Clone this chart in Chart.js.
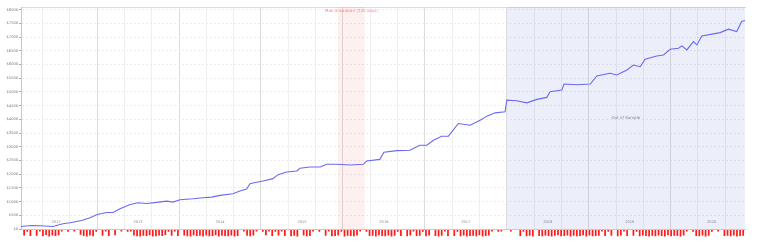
<!DOCTYPE html>
<html>
<head>
<meta charset="utf-8">
<script src="https://cdn.jsdelivr.net/npm/chart.js@4"></script>
<style>
  html, body { margin: 0; padding: 0; background: #fff; }
  #wrap { position: relative; width: 760px; height: 249px; }
  #equityChart { position: absolute; left: 0; top: 0; }
  #lossChart { position: absolute; left: 0; top: 229px; }
</style>
</head>
<body>
<div id="wrap">
  <canvas id="equityChart" width="760" height="234"></canvas>
  <canvas id="lossChart" width="760" height="20"></canvas>
</div>
<script>
// Equity curve
const equityDates = [
    '2012-01-27', '2012-03-15', '2012-04-21', '2012-06-18', '2012-08-01', '2012-09-02', '2012-10-24', '2012-11-30',
    '2013-01-01', '2013-02-13', '2013-03-13', '2013-04-13', '2013-05-28', '2013-07-02', '2013-08-10', '2013-09-23', '2013-11-07', '2013-12-05',
    '2014-01-05', '2014-03-04', '2014-04-17', '2014-05-26', '2014-07-02', '2014-08-29', '2014-09-29', '2014-10-29', '2014-11-13', '2014-11-26',
    '2015-01-10', '2015-02-23', '2015-03-18', '2015-04-25', '2015-06-09', '2015-06-24', '2015-08-07', '2015-09-21', '2015-10-21', '2015-12-04',
    '2016-02-02', '2016-04-01', '2016-04-16', '2016-06-14', '2016-07-02', '2016-08-29', '2016-10-26', '2016-12-10',
    '2017-01-10', '2017-02-08', '2017-03-17', '2017-04-16', '2017-05-30', '2017-07-21', '2017-09-04', '2017-10-04', '2017-11-10', '2017-12-24',
    '2018-01-01', '2018-02-14', '2018-03-31', '2018-05-15', '2018-06-28', '2018-07-13', '2018-09-03', '2018-09-13', '2018-11-09',
    '2019-01-08', '2019-02-06', '2019-04-06', '2019-05-06', '2019-06-20', '2019-07-19', '2019-08-18', '2019-09-09', '2019-10-31', '2019-11-30', '2019-12-30',
    '2020-02-05', '2020-02-20', '2020-03-13', '2020-04-12', '2020-04-27', '2020-05-19', '2020-07-10', '2020-08-09', '2020-09-15', '2020-10-22', '2020-11-13', '2020-11-28'
];
const equityValues = [
    92, 128, 117, 92, 190, 227, 311, 410,
    531, 604, 604, 739, 897, 959, 933, 970, 1017, 981,
    1069, 1105, 1142, 1164, 1226, 1288, 1383, 1457, 1654, 1676,
    1749, 1837, 1984, 2079, 2115, 2214, 2262, 2262, 2361, 2361,
    2335, 2361, 2481, 2540, 2800, 2860, 2873, 3056,
    3056, 3239, 3386, 3386, 3850, 3788, 3971, 4118, 4238, 4275,
    4703, 4677, 4604, 4729, 4802, 5007, 5069, 5289, 5263,
    5289, 5582, 5680, 5618, 5801, 5984, 5922, 6193, 6314, 6350, 6559,
    6595, 6680, 6533, 6837, 6716, 7046, 7119, 7166, 7290, 7203, 7569, 7606
];

// Losing trades, one bar per fortnight from the first date
const lossStart = '2012-01-27';
const lossDays = 14;
const lossValues = [
    0, 110, 35, 120, 0, 115, 30, 125, 100, 130, 110, 120, 105, 30, 0, 35, 0, 30, 0, 95,
    120, 130, 110, 125, 35, 0, 115, 30, 120, 0, 105, 0, 30, 0, 35, 30, 110, 125,
    130, 115, 120, 105, 130, 125, 110, 120, 100, 35, 115, 30, 120, 0, 110,
    125, 130, 105, 120, 115, 130, 110, 125, 120, 105, 130, 115, 120, 125, 110, 130, 120,
    0, 30, 115, 125, 110, 30, 0, 35, 105, 30, 120, 35, 110, 30,
    120, 0, 125, 115, 130, 0, 110, 125, 120, 30, 0, 35, 0,
    115, 30, 125, 120, 110, 35, 130, 115, 120,
    125, 110, 30, 0, 35, 120, 115, 130, 105, 120, 125, 110, 130, 115, 35, 120, 0, 125, 110, 30, 120, 115, 35, 125, 110, 0, 120, 130,
    115, 30, 125, 0, 120, 35, 125, 110, 130, 120, 115, 125, 105, 130, 120, 110,
    30, 0, 35, 30, 0, 0, 30, 0, 0,
    120, 35, 125, 115, 130, 0, 120,
    125, 110, 120, 130, 115, 105, 125, 120, 110, 130, 115, 125, 120, 105, 130, 110, 125, 120, 115,
    30, 120, 35, 115, 0, 125, 110, 30, 120, 0, 115, 35, 125, 110,
    120, 130, 115, 125, 110, 120, 130, 105, 125, 115, 120, 130, 110,
    30, 0, 35, 120, 125, 110, 130, 115, 35, 0, 30, 0,
    120, 115, 125, 110, 130, 120, 115, 125, 105, 120, 130, 115
];

// Axis and highlighted periods
const yTicks = [0, 500, 1000, 1500, 2000, 2500, 3000, 3500, 4000, 4500, 5000, 5500, 6000, 6500, 7000, 7500, 8000];
const yMax = 8100;
const drawdownRange = ['2015-12-10', '2016-04-08'];
const drawdownLabel = 'Max drawdown (120 days)';
const outOfSampleRange = ['2018-01-01', '2020-11-28'];
const outOfSampleLabel = 'Out of Sample';

function toYear(s) {
    const d = new Date(s + 'T00:00:00Z');
    const y = d.getUTCFullYear();
    const a = Date.UTC(y, 0, 1), b = Date.UTC(y + 1, 0, 1);
    return y + (d.getTime() - a) / (b - a);
}

const xMin = toYear(equityDates[0]);
const xMax = toYear(equityDates[equityDates.length - 1]);
const tinyFont = { family: 'DejaVu Sans', size: 3.6 };

const equityPoints = equityDates.map((d, i) => ({ x: toYear(d), y: equityValues[i] }));
const startMs = Date.parse(lossStart + 'T00:00:00Z');
const lossPoints = lossValues.map((v, i) => {
    const d = new Date(startMs + i * lossDays * 86400000).toISOString().slice(0, 10);
    return { x: toYear(d), y: v };
});

function band(range) {
    return [{ x: toYear(range[0]), y: yMax }, { x: toYear(range[1]), y: yMax }];
}

// Labels for the shaded periods
const bandLabels = {
    id: 'bandLabels',
    afterDatasetsDraw(chart) {
        const { ctx, scales } = chart;
        ctx.save();
        ctx.font = '4px "DejaVu Sans"';
        ctx.textAlign = 'center';
        ctx.textBaseline = 'middle';
        ctx.fillStyle = 'rgba(235, 110, 110, 0.8)';
        const dx = (scales.x.getPixelForValue(toYear(drawdownRange[0])) + scales.x.getPixelForValue(toYear(drawdownRange[1]))) / 2;
        ctx.fillText(drawdownLabel, dx, chart.chartArea.top + 4);
        ctx.fillStyle = '#888';
        const ox = (scales.x.getPixelForValue(toYear(outOfSampleRange[0])) + scales.x.getPixelForValue(toYear(outOfSampleRange[1]))) / 2;
        ctx.fillText(outOfSampleLabel, ox, (chart.chartArea.top + chart.chartArea.bottom) / 2);
        ctx.restore();
    }
};

new Chart(document.getElementById('equityChart'), {
    type: 'line',
    data: {
        datasets: [{
            data: equityPoints,
            borderColor: '#6a6af0',
            borderWidth: 1.1,
            pointRadius: 0,
            fill: false,
            tension: 0
        }, {
            data: band(drawdownRange),
            borderWidth: 0,
            pointRadius: 0,
            backgroundColor: 'rgba(255, 60, 60, 0.08)',
            fill: 'origin'
        }, {
            data: band(outOfSampleRange),
            borderWidth: 0,
            pointRadius: 0,
            backgroundColor: 'rgba(70, 100, 200, 0.1)',
            fill: 'origin'
        }]
    },
    options: {
        responsive: false,
        animation: false,
        devicePixelRatio: 1,
        layout: { padding: { top: 7, right: 15, bottom: 5, left: 0 } },
        plugins: { legend: { display: false }, tooltip: { enabled: false } },
        scales: {
            x: {
                type: 'linear',
                min: xMin,
                max: xMax,
                afterBuildTicks: (s) => {
                    const t = [];
                    for (let k = Math.ceil(xMin * 6); k <= xMax * 6; k++) t.push({ value: k / 6 });
                    s.ticks = t;
                },
                afterFit: (s) => { s.height = 0; },
                ticks: {
                    autoSkip: false,
                    maxRotation: 0,
                    mirror: true,
                    padding: 5,
                    font: tinyFont,
                    color: '#888',
                    callback: (v) => {
                        const k = Math.round(v * 6);
                        return k % 6 === 3 ? String(Math.floor(v)) : '';
                    }
                },
                grid: {
                    drawTicks: false,
                    color: (c) => {
                        const k = Math.round(c.tick.value * 6);
                        if (k % 6 === 0) return '#dcdcdc';
                        if (k % 2 === 0) return '#efefef';
                        return 'rgba(0,0,0,0)';
                    }
                },
                border: { color: '#c8c8c8' }
            },
            xTop: {
                type: 'linear',
                position: 'top',
                min: xMin,
                max: xMax,
                afterFit: (s) => { s.height = 0; },
                ticks: { display: false },
                grid: { display: false },
                border: { color: '#dddddd' }
            },
            y: {
                min: 0,
                max: yMax,
                afterBuildTicks: (s) => { s.ticks = yTicks.map(v => ({ value: v })); },
                afterFit: (s) => { s.width = 21; },
                ticks: {
                    font: tinyFont,
                    color: '#777',
                    padding: 1,
                    callback: (v) => '$' + v
                },
                grid: { color: '#ececec', tickLength: 2, tickColor: '#aaa' },
                border: { color: '#c8c8c8', dash: [2, 2] }
            }
        }
    },
    plugins: [bandLabels]
});

new Chart(document.getElementById('lossChart'), {
    type: 'bar',
    data: {
        datasets: [{
            data: lossPoints,
            backgroundColor: '#ff1a1a',
            barPercentage: 0.55,
            categoryPercentage: 1
        }]
    },
    options: {
        responsive: false,
        animation: false,
        devicePixelRatio: 1,
        layout: { padding: { top: 1, right: 15, bottom: 0, left: 21 } },
        plugins: { legend: { display: false }, tooltip: { enabled: false } },
        scales: {
            x: { type: 'linear', min: xMin, max: xMax, offset: false, display: false },
            y: { min: 0, max: 380, reverse: true, display: false }
        }
    }
});
</script>
</body>
</html>
